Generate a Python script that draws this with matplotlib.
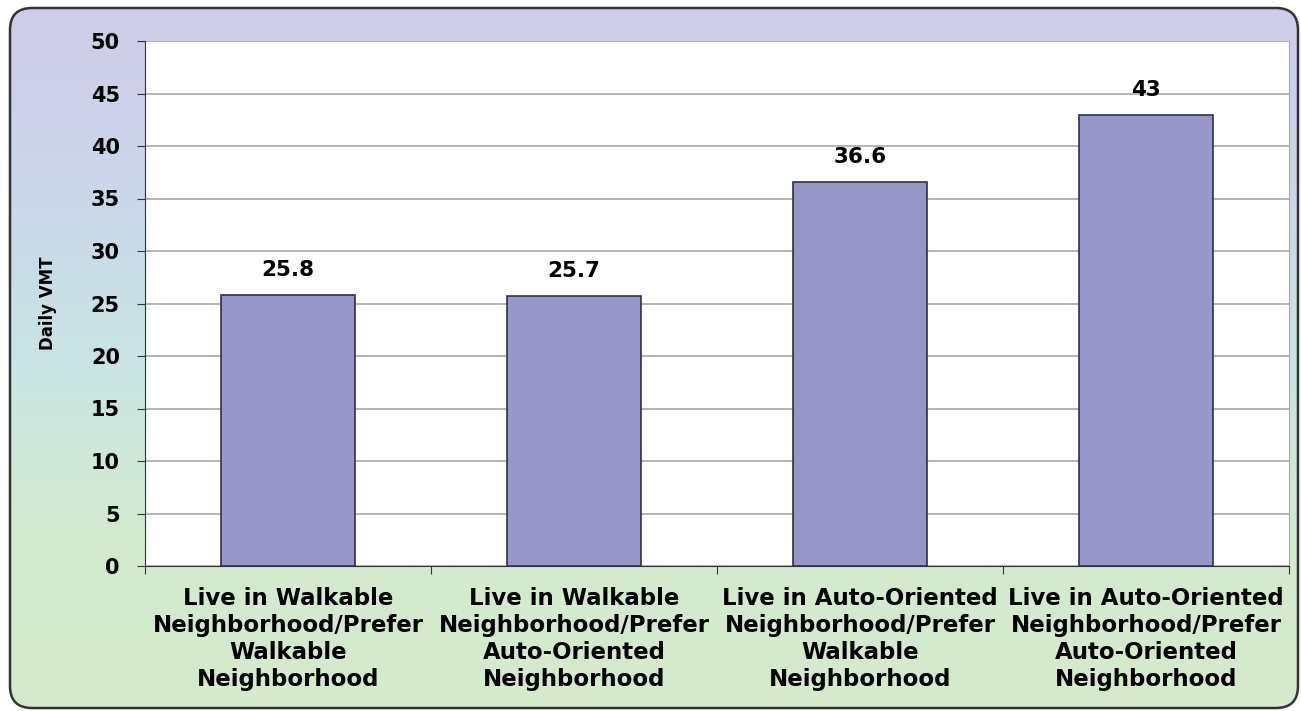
import numpy as np
import matplotlib.pyplot as plt
from matplotlib.patches import FancyBboxPatch
from matplotlib.colors import LinearSegmentedColormap

# data
categories = [
    "Live in Walkable\nNeighborhood/Prefer\nWalkable\nNeighborhood",
    "Live in Walkable\nNeighborhood/Prefer\nAuto-Oriented\nNeighborhood",
    "Live in Auto-Oriented\nNeighborhood/Prefer\nWalkable\nNeighborhood",
    "Live in Auto-Oriented\nNeighborhood/Prefer\nAuto-Oriented\nNeighborhood",
]
daily_vmt = [25.8, 25.7, 36.6, 43]
value_labels = ["25.8", "25.7", "36.6", "43"]
y_ticks = [0, 5, 10, 15, 20, 25, 30, 35, 40, 45, 50]

plt.rcParams['font.family'] = ['DejaVu Sans']

W, H = 1301, 711
fig = plt.figure(figsize=(W / 100, H / 100), dpi=100)
fig.patch.set_facecolor('white')

# gradient background inside rounded frame
bg = fig.add_axes([0, 0, 1, 1])
bg.set_xlim(0, W)
bg.set_ylim(H, 0)
bg.axis('off')
cmap = LinearSegmentedColormap.from_list(
    'bg', ['#cfcce8', '#cbd6ea', '#c9e4e4', '#d3ead0', '#d6ebcc'])
grad = np.linspace(0, 1, 256).reshape(-1, 1)
im = bg.imshow(grad, cmap=cmap, aspect='auto', extent=[10, 1298, 708, 8], zorder=0)
frame = FancyBboxPatch((10, 8), 1288, 700, boxstyle="round,pad=0,rounding_size=22",
                       facecolor='none', edgecolor='#333333', linewidth=1.8, zorder=2)
bg.add_patch(frame)
im.set_clip_path(frame)

# plot area
ax = fig.add_axes([145 / W, 1 - 566 / H, (1289 - 145) / W, (566 - 41) / H])
ax.set_facecolor('white')
x = np.arange(len(categories))
bars = ax.bar(x, daily_vmt, width=0.47, color='#9796c9', edgecolor='#30304a',
              linewidth=1.2, zorder=3)
for xi, v, lab in zip(x, daily_vmt, value_labels):
    ax.text(xi, v + 1.4, lab, ha='center', va='bottom', fontsize=15.5,
            fontweight='bold', zorder=4)

ax.set_xlim(-0.5, len(categories) - 0.5)
ax.set_ylim(0, 50)
ax.set_yticks(y_ticks)
ax.set_yticklabels([str(t) for t in y_ticks], fontsize=15, fontweight='bold')
ax.yaxis.grid(True, color='#a8a8a8', linewidth=1.2, zorder=0)
ax.set_axisbelow(True)

# category boundary ticks, labels centered on bars
ax.set_xticks(np.arange(-0.5, len(categories) + 0.5, 1))
ax.set_xticklabels([])
ax.set_xticks(x, minor=True)
ax.set_xticklabels(categories, minor=True, fontsize=16.5, fontweight='bold',
                   linespacing=1.22)
ax.tick_params(axis='x', which='minor', length=0, pad=15)
ax.tick_params(axis='x', which='major', length=6, direction='out', color='#333333')
ax.tick_params(axis='y', length=6, direction='out', color='#333333', pad=12)

ax.spines['top'].set_visible(False)
ax.spines['right'].set_color('#a8a8a8')
ax.spines['left'].set_color('#333333')
ax.spines['bottom'].set_color('#333333')

ax.set_ylabel('Daily VMT', fontsize=12, fontweight='bold')
ax.yaxis.set_label_coords(-(145 - 57) / (1289 - 145), 0.5)

fig.savefig('out.png', dpi=100)
